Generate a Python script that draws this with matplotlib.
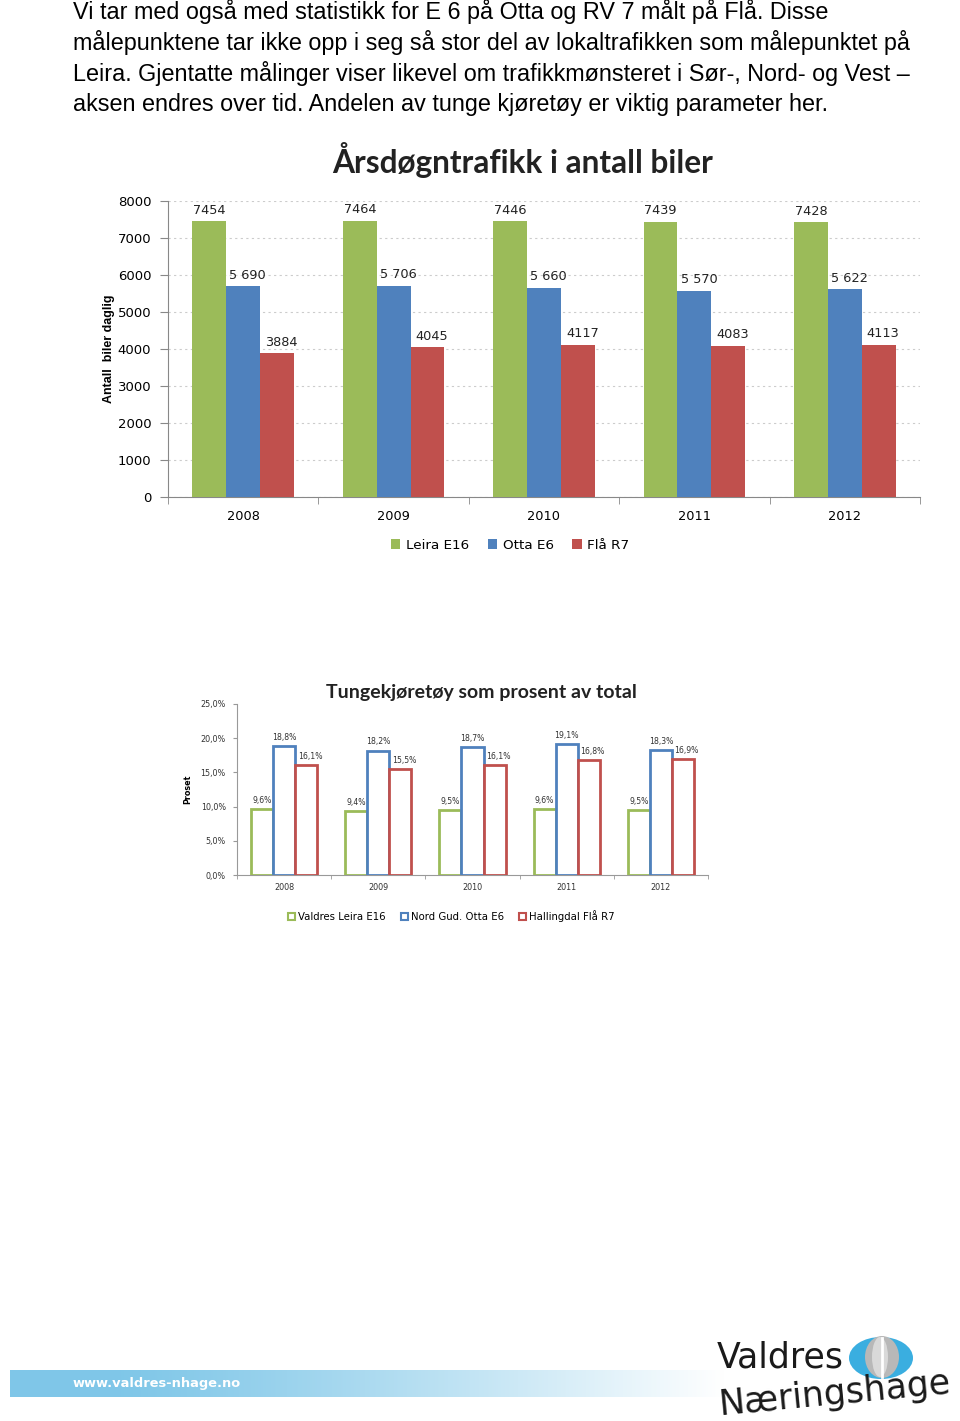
import numpy as np
import matplotlib
matplotlib.use("Agg")
import matplotlib.pyplot as plt
from matplotlib.patches import Ellipse, Rectangle

# ---------------- data ----------------
years = ["2008", "2009", "2010", "2011", "2012"]
leira_e16 = [7454, 7464, 7446, 7439, 7428]
otta_e6 = [5690, 5706, 5660, 5570, 5622]
fla_r7 = [3884, 4045, 4117, 4083, 4113]
series1_names = ["Leira E16", "Otta E6", "Flå R7"]

heavy_leira = [9.6, 9.4, 9.5, 9.6, 9.5]
heavy_otta = [18.8, 18.2, 18.7, 19.1, 18.3]
heavy_fla = [16.1, 15.5, 16.1, 16.8, 16.9]
series2_names = ["Valdres Leira E16", "Nord Gud. Otta E6", "Hallingdal Flå R7"]

body_lines = [
    "Vi tar med også med statistikk for E 6 på Otta og RV 7 målt på Flå. Disse",
    "målepunktene tar ikke opp i seg så stor del av lokaltrafikken som målepunktet på",
    "Leira. Gjentatte målinger viser likevel om trafikkmønsteret i Sør-, Nord- og Vest –",
    "aksen endres over tid. Andelen av tunge kjøretøy er viktig parameter her.",
]

GREEN = "#9BBB59"
BLUE = "#4F81BD"
RED = "#C0504D"
W, H = 960, 1421

fig = plt.figure(figsize=(W / 100, H / 100), dpi=100)
fig.patch.set_facecolor("white")

def fy(px):
    return 1 - px / H

def fx(px):
    return px / W

# ---------------- body text ----------------
for i, line in enumerate(body_lines):
    fig.text(fx(73), fy(12 + i * 30.7), line, fontsize=16.85,
             family="Liberation Sans", va="center", ha="left", color="black")

# ---------------- chart 1 ----------------
ax1 = fig.add_axes([fx(168), fy(497), fx(920 - 168), (497 - 201) / H])
x = np.arange(len(years))
bw = 0.225
cols = [GREEN, BLUE, RED]
data1 = [leira_e16, otta_e6, fla_r7]
for k, (vals, c, name) in enumerate(zip(data1, cols, series1_names)):
    pos = x + (k - 1) * bw
    ax1.bar(pos, vals, width=bw, color=c, label=name, zorder=3)
    for p, v in zip(pos, vals):
        lab = f"{v:,}".replace(",", " ") if k == 1 else f"{v}"
        ax1.text(p + (0.03 if k > 0 else 0), v + 120, lab, ha="center", va="bottom",
                 fontsize=9.3, family="DejaVu Sans", color="#222222")
ax1.set_xlim(-0.5, len(years) - 0.5)
ax1.set_ylim(0, 8000)
ax1.set_yticks(np.arange(0, 8001, 1000))
ax1.set_yticklabels([str(v) for v in range(0, 8001, 1000)], fontsize=9.5,
                    family="DejaVu Sans")
ax1.set_xticks(x)
ax1.set_xticklabels(years, fontsize=9.3, family="DejaVu Sans")
ax1.set_xticks(np.arange(-0.5, len(years)), minor=True)
ax1.tick_params(axis="x", which="major", length=0, pad=9)
ax1.tick_params(axis="x", which="minor", length=5, color="#888888")
ax1.tick_params(axis="y", length=6, color="#888888", pad=6)
ax1.grid(axis="y", linestyle=(0, (2, 3)), color="#cccccc", linewidth=0.8, zorder=0)
for s in ["top", "right"]:
    ax1.spines[s].set_visible(False)
for s in ["left", "bottom"]:
    ax1.spines[s].set_color("#888888")
ax1.set_ylabel("Antall  biler daglig", fontsize=9, family="Liberation Sans",
               fontweight="bold", labelpad=2)
fig.text(fx(523), fy(160), "Årsdøgntrafikk i antall biler", ha="center", va="center",
         fontsize=22.8, family="Lato", fontweight="bold", color="#222222")
ax1.legend(loc="upper center", bbox_to_anchor=(0.455, -0.1), ncol=3, frameon=False,
           handlelength=0.7, handleheight=0.7, handletextpad=0.4, columnspacing=1.4,
           prop={"family": "DejaVu Sans", "size": 9.7})

# ---------------- chart 2 ----------------
ax2 = fig.add_axes([fx(237), fy(875), fx(708 - 237), (875 - 704) / H])
bw2 = 0.234
data2 = [heavy_leira, heavy_otta, heavy_fla]
for k, (vals, c, name) in enumerate(zip(data2, cols, series2_names)):
    pos = x + (k - 1) * bw2
    ax2.bar(pos, vals, width=bw2, facecolor="white", edgecolor=c, linewidth=2,
            label=name, zorder=3)
    for p, v in zip(pos, vals):
        ax2.text(p + (0.04 if k == 2 else 0), v + 0.6, f"{v:.1f}%".replace(".", ","),
                 ha="center", va="bottom", fontsize=5.6, family="DejaVu Sans",
                 color="#333333")
ax2.set_xlim(-0.5, len(years) - 0.5)
ax2.set_ylim(0, 25)
ax2.set_yticks(np.arange(0, 25.1, 5))
ax2.set_yticklabels([f"{v:.1f}%".replace(".", ",") for v in np.arange(0, 25.1, 5)],
                    fontsize=5.8, family="DejaVu Sans", color="#333333")
ax2.set_xticks(x)
ax2.set_xticklabels(years, fontsize=5.8, family="DejaVu Sans", color="#333333")
ax2.set_xticks(np.arange(-0.5, len(years)), minor=True)
ax2.tick_params(axis="x", which="major", length=0, pad=6)
ax2.tick_params(axis="x", which="minor", length=3, color="#999999")
ax2.tick_params(axis="y", length=3, color="#999999", pad=5)
for s in ["top", "right"]:
    ax2.spines[s].set_visible(False)
for s in ["left", "bottom"]:
    ax2.spines[s].set_color("#999999")
ax2.set_ylabel("Proset", fontsize=5.8, family="DejaVu Sans", fontweight="bold", labelpad=6)
fig.text(fx(481), fy(693), "Tungekjøretøy som prosent av total", ha="center", va="center",
         fontsize=14, family="Lato", fontweight="bold", color="#222222")
handles2 = [Rectangle((0, 0), 1, 1, facecolor="white", edgecolor=c, linewidth=1.5)
            for c in cols]
ax2.legend(handles2, series2_names, loc="upper center", bbox_to_anchor=(0.455, -0.15),
           ncol=3, frameon=False, handlelength=0.7, handleheight=0.7, handletextpad=0.3,
           columnspacing=1.5, prop={"family": "DejaVu Sans", "size": 7.3})

# ---------------- footer ----------------
axf = fig.add_axes([0, 0, 1, 1], zorder=-1)
axf.set_xlim(0, W)
axf.set_ylim(H, 0)
axf.axis("off")
grad = np.linspace(0, 1, 400)
c0 = np.array([0.50, 0.78, 0.91])
c1 = np.array([1.0, 1.0, 1.0])
alpha = np.clip((grad - 0.15) / 0.85, 0, 1) ** 1.2
img = c0[None, :] * (1 - alpha[:, None]) + c1[None, :] * alpha[:, None]
img = img[None, :, :]
axf.imshow(img, extent=(10, 725, 1397, 1370), aspect="auto", zorder=0)
axf.text(73, 1384, "www.valdres-nhage.no", color="white", fontsize=9.4,
         family="DejaVu Sans", fontweight="bold", va="center", ha="left")

axl = fig.add_axes([0, 0, 1, 1], zorder=5)
axl.set_xlim(0, W)
axl.set_ylim(H, 0)
axl.axis("off")
axl.text(717, 1358, "Valdres", fontsize=25, family="DejaVu Sans", color="#1a1a1a",
         va="center", ha="left")
axl.text(835, 1394, "Næringshage", fontsize=25, family="DejaVu Sans", color="#1a1a1a",
         va="center", ha="center", rotation=5.5)
axl.add_patch(Ellipse((881, 1358), 64, 42, facecolor="#3aaee0", edgecolor="none"))
axl.add_patch(Ellipse((882, 1357), 34, 42, facecolor="#b8b8b8", edgecolor="none"))
axl.add_patch(Ellipse((880, 1357), 16, 40, facecolor="#d9d9d9", edgecolor="none"))
axl.plot([882, 882], [1338, 1377], color="white", linewidth=2)

fig.savefig("out.png", dpi=100, facecolor="white")
